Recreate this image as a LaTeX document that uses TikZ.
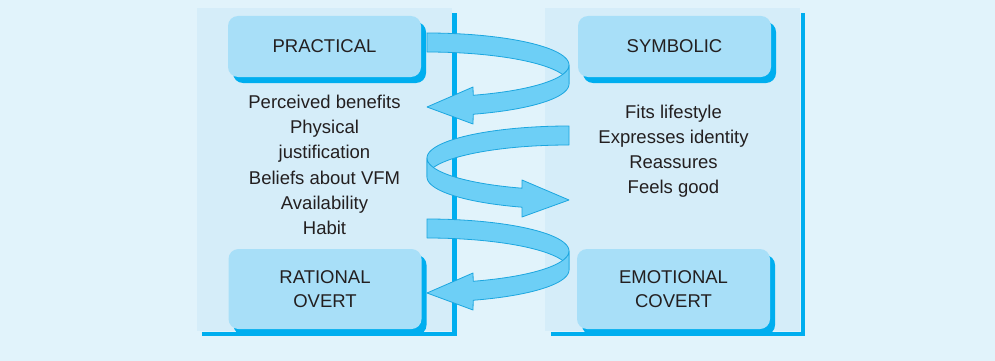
\documentclass[tikz,border=0pt]{standalone}
\usepackage{fontspec}
\setmainfont{Liberation Sans}
\usetikzlibrary{shadows}
\definecolor{bgblue}{HTML}{E1F3FB}
\definecolor{panelblue}{HTML}{D5EDF9}
\definecolor{boxblue}{HTML}{A8DFF8}
\definecolor{lineblue}{HTML}{00AEEF}
\definecolor{ribfill}{HTML}{6DCFF6}
\definecolor{ribdraw}{HTML}{1CA6DF}
\definecolor{txt}{HTML}{231F20}
\begin{document}
\begin{tikzpicture}[x=1pt,y=-1pt,
  labelbox/.style={rectangle, rounded corners=10pt, fill=boxblue, minimum width=193pt, minimum height=61pt,
    general shadow={shadow xshift=5pt, shadow yshift=-6pt, fill=lineblue},
    align=center, text=txt, font=\fontsize{18.5}{24.3}\selectfont},
  listitem/.style={anchor=base, text=txt, inner sep=0pt, font=\fontsize{18.5}{24.3}\selectfont},
  frameline/.style={lineblue, line width=4.6pt},
  ribbon/.style={fill=ribfill, draw=ribdraw, line width=0.8pt, line join=round},
  rib/.style={variable=\t, samples=40, smooth}]
\useasboundingbox (0,0) rectangle (995,361);
\fill[bgblue] (0,0) rectangle (995,361);
% panels
\fill[panelblue] (197,8) rectangle (452,331);
\fill[panelblue] (545,8) rectangle (800,331);
\draw[frameline] (202,334) -- (454.5,334) -- (454.5,13);
\draw[frameline] (551,334) -- (803,334) -- (803,13);
% boxes
\node[labelbox] (prac) at (324.5,46.5) {PRACTICAL};
\node[labelbox] (sym) at (674.5,46.5) {SYMBOLIC};
\node[labelbox, minimum height=80pt] (rat) at (325,289) {RATIONAL\\OVERT};
\node[labelbox, minimum height=80pt] (emo) at (673.5,289) {EMOTIONAL\\COVERT};
% lists
\node[listitem] (l1) at (324.5,108.5) {Perceived benefits};
\node[listitem] (l2) at (324.5,133.7) {Physical};
\node[listitem] (l3) at (324.5,158.9) {justification};
\node[listitem] (l4) at (324.5,184.1) {Beliefs about VFM};
\node[listitem] (l5) at (324.5,209.3) {Availability};
\node[listitem] (l6) at (324.5,234.5) {Habit};
\node[listitem] (r1) at (673.5,118) {Fits lifestyle};
\node[listitem] (r2) at (673.5,143.2) {Expresses identity};
\node[listitem] (r3) at (673.5,168.4) {Reassures};
\node[listitem] (r4) at (673.5,193.6) {Feels good};
% ribbon 1
\filldraw[ribbon] plot[rib, domain=90:0] ({427+142*cos(\t)},{65-32*sin(\t)})
  -- plot[rib, domain=0:90] ({427+142*cos(\t)},{84-32*sin(\t)}) -- cycle;
\filldraw[ribbon] plot[rib, domain=0:-71] ({427+142*cos(\t)},{65-32*sin(\t)})
  -- (473,87) -- (427,107) -- (473,124)
  -- plot[rib, domain=-71:0] ({427+142*cos(\t)},{84-32*sin(\t)}) -- cycle;
% ribbon 2
\filldraw[ribbon] plot[rib, domain=90:180] ({569+142*cos(\t)},{158-32*sin(\t)})
  -- plot[rib, domain=180:90] ({569+142*cos(\t)},{177-32*sin(\t)}) -- cycle;
\filldraw[ribbon] plot[rib, domain=180:250.7] ({569+142*cos(\t)},{158-32*sin(\t)})
  -- (522,180) -- (569,200) -- (522,217)
  -- plot[rib, domain=250.7:180] ({569+142*cos(\t)},{177-32*sin(\t)}) -- cycle;
% ribbon 3
\filldraw[ribbon] plot[rib, domain=90:0] ({427+142*cos(\t)},{251-32*sin(\t)})
  -- plot[rib, domain=0:90] ({427+142*cos(\t)},{270-32*sin(\t)}) -- cycle;
\filldraw[ribbon] plot[rib, domain=0:-71] ({427+142*cos(\t)},{251-32*sin(\t)})
  -- (473,273) -- (427,293) -- (473,310)
  -- plot[rib, domain=-71:0] ({427+142*cos(\t)},{270-32*sin(\t)}) -- cycle;
\end{tikzpicture}
\end{document}
